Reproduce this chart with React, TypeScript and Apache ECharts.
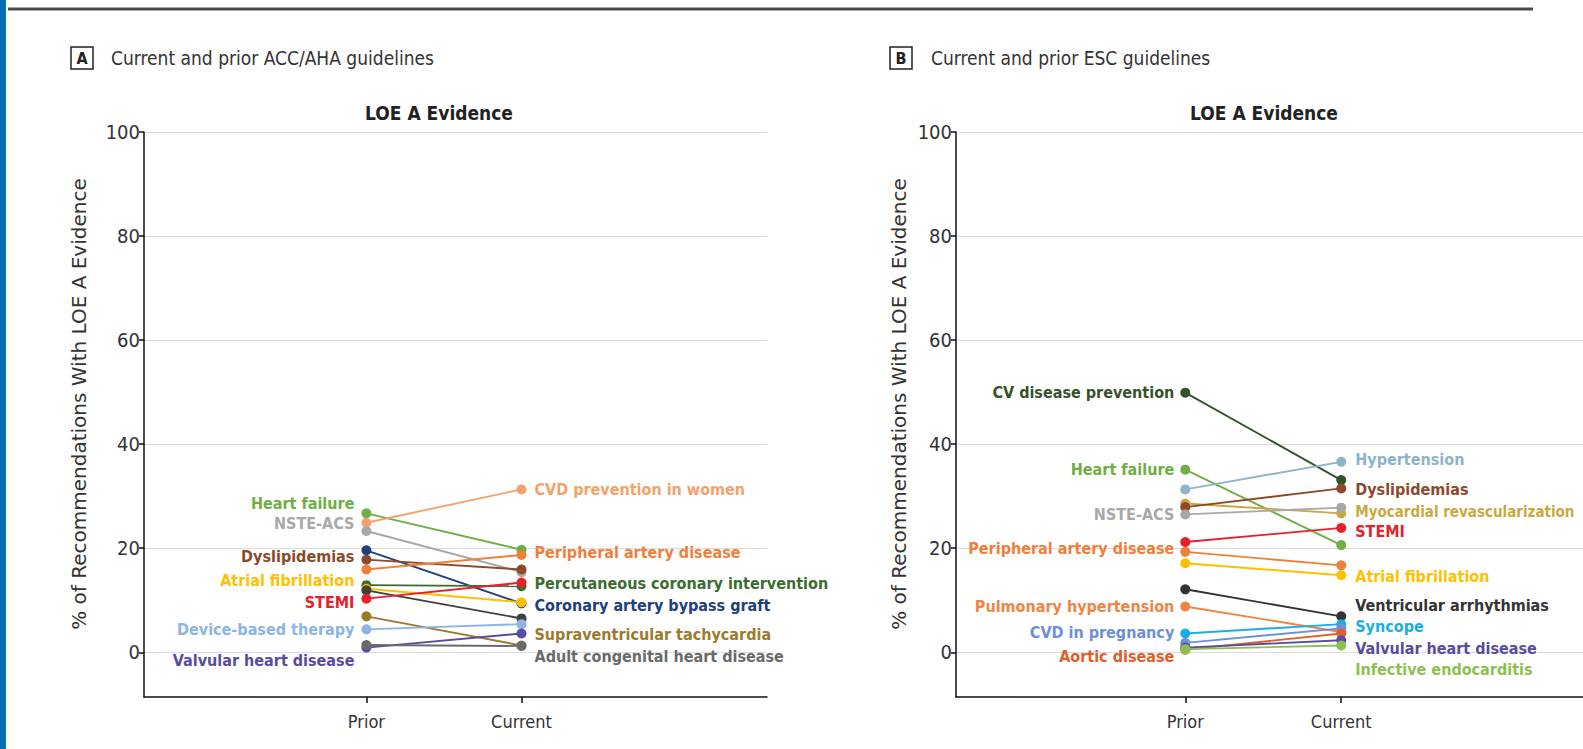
import React, { useEffect, useRef } from 'react';
import * as echarts from 'echarts';

const periods = ['Prior', 'Current'];
const yTicks = [0, 20, 40, 60, 80, 100];
const yTitle = '% of Recommendations With LOE A Evidence';

// ---- Panel A: ACC/AHA ----
const aNames = [
  'Heart failure', 'CVD prevention in women', 'NSTE-ACS', 'Coronary artery bypass graft',
  'Dyslipidemias', 'Peripheral artery disease', 'Percutaneous coronary intervention',
  'Atrial fibrillation', 'Other', 'STEMI', 'Supraventricular tachycardia',
  'Device-based therapy', 'Valvular heart disease', 'Adult congenital heart disease',
];
const aPrior = [26.7, 24.9, 23.3, 19.6, 17.8, 15.9, 12.9, 12.2, 11.9, 10.3, 6.9, 4.4, 0.9, 1.4];
const aCurrent = [19.7, 31.3, 15.4, 9.4, 15.9, 18.7, 12.7, 9.6, 6.5, 13.4, 1.3, 5.4, 3.6, 1.2];
const aColors = [
  '#6fae45', '#f4a26b', '#a8a8a8', '#213f7c', '#8b4a2b', '#ef7f3b', '#3c6c2f',
  '#ffc000', '#3f3f3f', '#e8202a', '#9c7b2e', '#8ab5e4', '#5a4ba2', '#6a6a6a',
];
const aLeftLabels: Record<string, number> = {
  'Heart failure': -10, 'NSTE-ACS': -8, 'Dyslipidemias': -3, 'Atrial fibrillation': -8,
  'STEMI': 4, 'Device-based therapy': 0, 'Valvular heart disease': 13,
};
const aRightLabels: Record<string, number> = {
  'CVD prevention in women': 0, 'Peripheral artery disease': -2,
  'Percutaneous coronary intervention': -3, 'Coronary artery bypass graft': 2,
  'Supraventricular tachycardia': -11, 'Adult congenital heart disease': 10,
};

// ---- Panel B: ESC ----
const bNames = [
  'CV disease prevention', 'Heart failure', 'Hypertension', 'Myocardial revascularization',
  'Dyslipidemias', 'NSTE-ACS', 'STEMI', 'Peripheral artery disease', 'Atrial fibrillation',
  'Ventricular arrhythmias', 'Pulmonary hypertension', 'Syncope', 'CVD in pregnancy',
  'Aortic disease', 'Valvular heart disease', 'Infective endocarditis',
];
const bPrior = [49.9, 35.1, 31.3, 28.6, 27.9, 26.5, 21.2, 19.3, 17.1, 12.1, 8.8, 3.6, 1.8, 0.5, 0.9, 0.6];
const bCurrent = [33.1, 20.6, 36.6, 26.7, 31.5, 27.8, 23.9, 16.7, 14.8, 6.9, 3.9, 5.4, 4.6, 3.6, 2.3, 1.3];
const bColors = [
  '#34532b', '#6fae45', '#8fb4c9', '#c9a93f', '#8b4a2b', '#a8a8a8', '#e8202a', '#ef7f3b',
  '#ffc000', '#333333', '#ef8544', '#19aee8', '#6d8fd9', '#e0602c', '#5a4ba2', '#8cc152',
];
const bLeftLabels: Record<string, number> = {
  'CV disease prevention': 0, 'Heart failure': 0, 'NSTE-ACS': 0,
  'Peripheral artery disease': -3, 'Pulmonary hypertension': 0,
  'CVD in pregnancy': -10, 'Aortic disease': 7,
};
const bRightLabels: Record<string, number> = {
  'Hypertension': -2, 'Dyslipidemias': 1, 'Myocardial revascularization': -1, 'STEMI': 4,
  'Atrial fibrillation': 1, 'Ventricular arrhythmias': -11, 'Syncope': 2,
  'Valvular heart disease': 8, 'Infective endocarditis': 24,
};
const smallLabels = ['Myocardial revascularization'];

const FONT = '"DejaVu Sans Condensed", "Liberation Sans Narrow", sans-serif';
const TEXT = '#333';

function buildSeries(
  names: string[], prior: number[], current: number[], colors: string[],
  left: Record<string, number>, right: Record<string, number>, idx: number,
  lDist: number, rDist: number,
) {
  return names.map((n, i) => {
    const c = colors[i];
    const lbl = (side: 'left' | 'right', map: Record<string, number>, dist: number) =>
      n in map
        ? {
            show: true, position: side, distance: dist, offset: [0, map[n]], formatter: n,
            color: c, fontFamily: FONT, fontSize: smallLabels.includes(n) ? 15 : 16, fontWeight: 'bold',
          }
        : { show: false };
    return {
      type: 'line',
      name: n,
      xAxisIndex: idx,
      yAxisIndex: idx,
      symbol: 'circle',
      symbolSize: 10,
      itemStyle: { color: c },
      lineStyle: { color: c, width: 1.9 },
      emphasis: { disabled: true },
      data: [
        { value: [0, prior[i]], label: lbl('left', left, lDist) },
        { value: [1, current[i]], label: lbl('right', right, rDist) },
      ],
    };
  });
}

function yAxis(idx: number) {
  return {
    type: 'value', gridIndex: idx, min: -8.6, max: 100,
    axisLine: { show: true, onZero: false, lineStyle: { color: '#111', width: 1.5 } },
    axisTick: { show: true, customValues: yTicks, length: 5, lineStyle: { color: '#111', width: 1.5 } },
    axisLabel: { customValues: yTicks, margin: 4, fontFamily: FONT, fontSize: 20, color: TEXT },
    splitLine: { show: true, lineStyle: { color: '#dcdcdc', width: 1.2 } },
  };
}

function xAxis(idx: number, min: number, max: number) {
  return {
    type: 'value', gridIndex: idx, min, max,
    axisLine: { show: true, onZero: false, lineStyle: { color: '#111', width: 1.5 } },
    axisTick: { show: true, customValues: [0, 1], length: 6, lineStyle: { color: '#111', width: 1.5 } },
    axisLabel: {
      customValues: [0, 1], margin: 15, fontFamily: FONT, fontSize: 18, color: TEXT,
      formatter: (v: number) => periods[v],
    },
    splitLine: { show: false },
  };
}

const headText = (x: number, y: number, text: string, extra: object = {}) => ({
  type: 'text', x, y,
  style: { text, fontFamily: FONT, fontSize: 19, fill: TEXT, verticalAlign: 'middle', ...extra },
});

export default function App() {
  const ref = useRef<HTMLDivElement>(null);
  useEffect(() => {
    document.body.style.margin = '0';
    const chart = echarts.init(ref.current!, undefined, { renderer: 'svg' });
    chart.setOption({
      animation: false,
      backgroundColor: '#fff',
      grid: [
        { left: 144, top: 132, width: 623, height: 565 },
        { left: 956, top: 132, width: 627, height: 565 },
      ],
      xAxis: [xAxis(0, -1.434, 2.583), xAxis(1, -1.47, 2.55)],
      yAxis: [yAxis(0), yAxis(1)],
      series: [
        ...buildSeries(aNames, aPrior, aCurrent, aColors, aLeftLabels, aRightLabels, 0, 7, 8),
        ...buildSeries(bNames, bPrior, bCurrent, bColors, bLeftLabels, bRightLabels, 1, 6, 9),
      ],
      graphic: [
        { type: 'rect', shape: { x: 0, y: 0, width: 6, height: 749 }, style: { fill: '#0b6cb6' } },
        { type: 'line', shape: { x1: 8, y1: 9, x2: 1533, y2: 9 }, style: { stroke: '#4a4a4a', lineWidth: 3 } },
        { type: 'rect', shape: { x: 71, y: 47, width: 22, height: 22 }, style: { fill: 'none', stroke: '#222', lineWidth: 1.5 } },
        headText(82, 58, 'A', { fontSize: 16, fontWeight: 'bold', fill: '#222', align: 'center' }),
        headText(111, 58, 'Current and prior ACC/AHA guidelines'),
        { type: 'rect', shape: { x: 890, y: 47, width: 22, height: 22 }, style: { fill: 'none', stroke: '#222', lineWidth: 1.5 } },
        headText(901, 58, 'B', { fontSize: 16, fontWeight: 'bold', fill: '#222', align: 'center' }),
        headText(931, 58, 'Current and prior ESC guidelines'),
        headText(439, 113, 'LOE A Evidence', { fontWeight: 'bold', fill: '#222', align: 'center' }),
        headText(1264, 113, 'LOE A Evidence', { fontWeight: 'bold', fill: '#222', align: 'center' }),
        {
          type: 'text', x: 79, y: 404, rotation: Math.PI / 2,
          style: { text: yTitle, fontFamily: '"DejaVu Sans", sans-serif', fontSize: 20, fill: TEXT, align: 'center', verticalAlign: 'middle' },
        },
        {
          type: 'text', x: 899, y: 404, rotation: Math.PI / 2,
          style: { text: yTitle, fontFamily: '"DejaVu Sans", sans-serif', fontSize: 20, fill: TEXT, align: 'center', verticalAlign: 'middle' },
        },
      ],
    });
    return () => chart.dispose();
  }, []);
  return <div ref={ref} style={{ width: 1583, height: 749 }} />;
}
